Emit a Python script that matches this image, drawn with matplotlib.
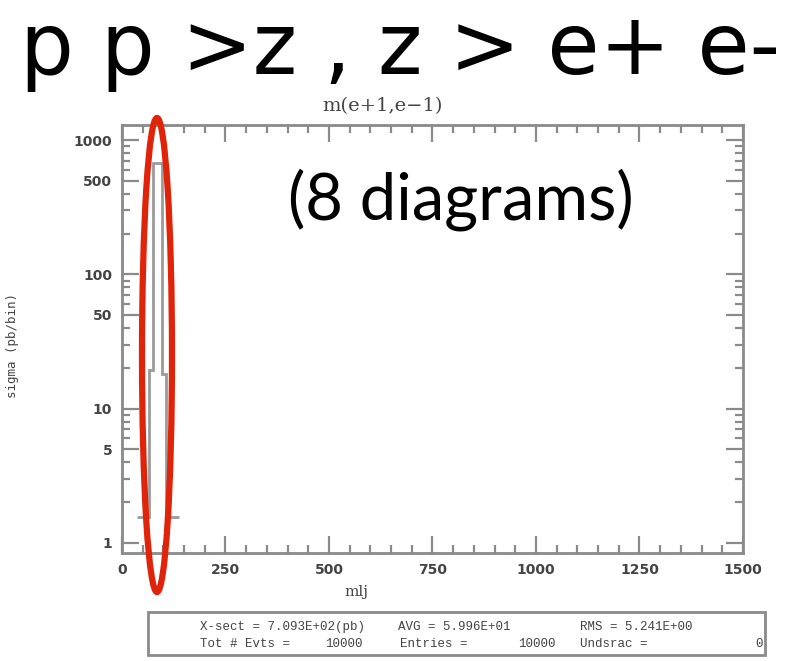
import matplotlib
matplotlib.use("Agg")
import matplotlib.pyplot as plt
import numpy as np
from matplotlib.patches import Ellipse, Rectangle
from matplotlib.ticker import FixedLocator, MultipleLocator, NullFormatter

# m(e+,e-) histogram, pb/bin
bin_edges = [36, 65, 75, 97, 107, 138]
sigma = [1.55, 19.5, 680, 18, 1.55]

y_ticks = [1, 5, 10, 50, 100, 500, 1000]
y_minor = [2, 3, 4, 6, 7, 8, 9, 20, 30, 40, 60, 70, 80, 90,
           200, 300, 400, 600, 700, 800, 900]
x_ticks = [0, 250, 500, 750, 1000, 1250, 1500]

# run summary printed under the plot: (text, x pixel, row)
stats_cells = [
    ("X-sect = 7.093E+02(pb)", 200, 0),
    ("AVG = 5.996E+01", 398, 0),
    ("RMS = 5.241E+00", 580, 0),
    ("Tot # Evts =", 200, 1),
    ("10000", 325, 1),
    ("Entries =", 400, 1),
    ("10000", 518, 1),
    ("Undsrac =", 580, 1),
    ("0", 755, 1),
]

W, H = 812, 661
frame_col = "#8a8a8a"
text_col = "#444444"

fig = plt.figure(figsize=(W / 100, H / 100), dpi=100)
ax = fig.add_axes([122 / W, 1 - 553 / H, 621 / W, 428 / H])

# histogram outline
ax.stairs(sigma, bin_edges, color="#9a9a9a", linewidth=2.0, baseline=None)

ax.set_yscale("log")
ax.set_xlim(0, 1500)
ax.set_ylim(0.84, 1300)

ax.yaxis.set_major_locator(FixedLocator(y_ticks))
ax.yaxis.set_minor_locator(FixedLocator(y_minor))
ax.yaxis.set_minor_formatter(NullFormatter())
ax.set_yticklabels([str(v) for v in y_ticks])
ax.xaxis.set_major_locator(FixedLocator(x_ticks))
ax.xaxis.set_minor_locator(MultipleLocator(50))

for side in ax.spines.values():
    side.set_color(frame_col)
    side.set_linewidth(2.0)

ax.tick_params(which="both", direction="in", top=True, right=True,
               color=frame_col, width=1.6)
ax.tick_params(which="major", length=12, labelsize=10, labelcolor=text_col, pad=7)
ax.tick_params(which="minor", length=6)
for lab in ax.get_xticklabels() + ax.get_yticklabels():
    lab.set_fontweight("bold")
    lab.set_family("DejaVu Sans")

fig.text(382 / W, 1 - 106 / H, "m(e+1,e\u22121)", family="DejaVu Serif",
         fontsize=14, color=text_col, ha="center", va="center")
fig.text(356 / W, 1 - 592 / H, "mlj", family="DejaVu Serif", fontsize=11,
         color=text_col, ha="center", va="center")
fig.text(13 / W, 1 - 345 / H, "sigma (pb/bin)", family="DejaVu Sans Mono",
         fontsize=9, color=text_col, ha="center", va="center", rotation=90)

fig.text(461 / W, 1 - 200 / H, "(8 diagrams)", ha="center", va="center",
         family="Lato", fontsize=47, color="black")

fig.text(20 / W, 1 - 51 / H, "p p >z , z > e+ e-", ha="left", va="center",
         family="DejaVu Sans", fontsize=61, color="black")

# statistics box under the plot
box = Rectangle((148 / W, 1 - 655 / H), 617 / W, 43 / H,
                transform=fig.transFigure, fill=False,
                edgecolor=frame_col, linewidth=2.0)
fig.patches.append(box)
for label, px, row in stats_cells:
    t = fig.text(px / W, 1 - (627 + 17 * row) / H, label, family="Liberation Mono",
                 fontsize=9, color=text_col, va="center")
    t.set_clip_path(box)

# highlight around the Z peak
fig.patches.append(Ellipse((157 / W, 1 - 355 / H), 30 / W, 474 / H,
                           transform=fig.transFigure, fill=False,
                           edgecolor="#e0240a", linewidth=4.5))

fig.savefig("out.png", dpi=100)
